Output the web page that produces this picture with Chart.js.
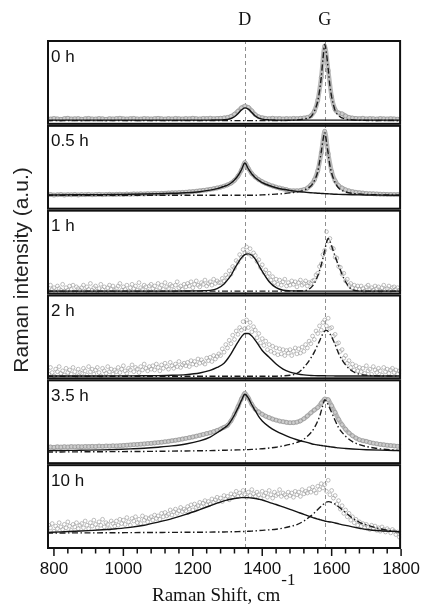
<!DOCTYPE html>
<html>
<head>
<meta charset="utf-8">
<script src="https://cdn.jsdelivr.net/npm/chart.js@4.4.1/dist/chart.umd.min.js"></script>
<style>
  html, body { margin: 0; padding: 0; background: #fff; }
  #wrap { width: 430px; height: 605px; }
</style>
</head>
<body>
<div id="wrap"><canvas id="ramanChart" width="430" height="605"></canvas></div>
<script>
// panel names, top to bottom
const panelLabels = ['0 h', '0.5 h', '1 h', '2 h', '3.5 h', '10 h'];

// D and G band positions (cm-1), dashed guide lines
const bandLabels = ['D', 'G'];
const bandCentres = [1350, 1580];

// x tick labels
const shiftTicks = [800, 1000, 1200, 1400, 1600, 1800];

// measured spectra are sampled every 10 cm-1 (smooth ones) or 5 cm-1 (noisy ones), 780..1800
const shiftStep10 = [];
for (let v = 780; v <= 1800; v += 10) shiftStep10.push(v);
const shiftStep5 = [];
for (let v = 780; v <= 1800; v += 5) shiftStep5.push(v);

// x positions of the fitted curves (denser near the peaks)
const fitShift = [780, 820, 860, 900, 940, 980, 1020, 1060, 1100, 1140, 1180, 1220,
  1250, 1270, 1290, 1300, 1310, 1320, 1330, 1340, 1350, 1360, 1370, 1380, 1390, 1400,
  1420, 1440, 1460, 1480, 1500, 1520, 1540,
  1550, 1560, 1565, 1570, 1575, 1580, 1585, 1590, 1595, 1600,
  1610, 1620, 1640, 1660, 1680, 1700, 1740, 1800];

// intensities are in % of the panel height

// ---- 0 h ----
const data0h = [
  7.2, 6.8, 7.5, 7.0, 6.6, 7.3, 7.8, 6.9, 7.1, 7.4,
  6.7, 7.2, 7.6, 7.0, 6.8, 7.5, 7.1, 6.6, 7.3, 7.0,
  7.4, 7.8, 7.1, 6.9, 7.3, 7.6, 7.0, 6.8, 7.5, 7.2,
  6.9, 7.3, 7.7, 7.1, 6.8, 7.4, 7.0, 7.6, 7.2, 6.9,
  7.5, 7.1, 7.8, 7.3, 7.0, 7.6, 7.4, 7.9, 7.2, 7.6,
  7.8, 8.2, 8.8, 10, 12.5, 16, 20, 22, 20.5, 16.5,
  12, 9.5, 8.3, 7.6, 7.3, 7.8, 7.2, 7.5, 7.0, 7.4,
  7.1, 7.6, 7.3, 7.8, 8.0, 8.8, 10.5, 16, 29, 56,
  93, 64, 33, 18, 14, 13, 10.5, 8.8, 8.0, 7.6,
  7.3, 7.8, 7.0, 7.4, 7.2, 6.8, 7.5, 7.1, 6.9, 7.3,
  7.0, 6.7, 7.2];
const dFit0h = [
  5.5, 5.5, 5.5, 5.5, 5.5, 5.5, 5.5, 5.5, 5.5, 5.5, 5.5, 5.5,
  5.6, 5.7, 6.0, 6.5, 7.5, 9.5, 13, 17.5, 20, 18.5, 14.5, 10.5, 8, 6.8,
  5.9, 5.6, 5.5, 5.5, 5.5, 5.5, 5.5,
  5.5, 5.5, 5.5, 5.5, 5.5, 5.5, 5.5, 5.5, 5.5, 5.5,
  5.5, 5.5, 5.5, 5.5, 5.5, 5.5, 5.5, 5.5];
const gFit0h = [
  5, 5, 5, 5, 5, 5, 5, 5, 5, 5, 5, 5,
  5, 5, 5, 5, 5, 5, 5, 5, 5, 5, 5, 5, 5, 5,
  5, 5, 5, 5.3, 5.8, 7, 9.5,
  16, 28, 40, 56, 78, 94.8, 84, 66, 46, 33,
  17, 11, 6.8, 5.8, 5.4, 5.2, 5.1, 5];

// ---- 0.5 h ----
const data05h = [
  17.4, 17.8, 17.2, 17.6, 17.9, 17.3, 17.7, 17.5, 17.9, 17.4,
  17.8, 17.6, 18.0, 17.5, 17.8, 18.1, 17.7, 17.9, 18.2, 17.8,
  18.1, 18.3, 18.0, 18.4, 18.2, 18.6, 18.4, 18.7, 18.5, 18.9,
  18.8, 19.1, 19.0, 19.3, 19.4, 19.6, 19.8, 19.9, 20.2, 20.4,
  20.6, 21.0, 21.3, 21.8, 22.2, 22.8, 23.3, 24.0, 24.7, 25.6,
  26.5, 27.8, 29.2, 31.2, 34.5, 39.5, 46.5, 55.5, 48.5, 42.5,
  38.5, 35.3, 33.0, 31.0, 29.3, 27.9, 26.6, 25.5, 24.5, 23.6,
  22.4, 22.2, 22.3, 22.7, 23.6, 25.5, 29, 35, 46, 67,
  92.5, 66, 45, 34, 28.5, 25.5, 23.5, 22.2, 21.2, 20.5,
  20.0, 19.6, 19.2, 18.9, 18.7, 18.5, 18.3, 18.2, 18.0, 17.9,
  17.8, 17.8, 17.7];
const dFit05h = [
  17.3, 17.4, 17.5, 17.6, 17.7, 17.9, 18.1, 18.4, 18.8, 19.3, 20.0, 21.2,
  23, 24.8, 27.5, 29, 31.5, 35, 40, 47, 55, 48, 42, 37.7, 34.5, 32,
  28.5, 25.8, 24, 22.6, 21.5, 20.7, 20,
  19.7, 19.4, 19.3, 19.1, 19, 18.9, 18.8, 18.7, 18.6, 18.4,
  18.2, 18, 17.8, 17.6, 17.4, 17.3, 17.2, 17];
const gFit05h = [
  17, 17, 17, 17, 17, 17, 17, 17, 17, 17, 17, 17,
  17, 17, 17, 17, 17, 17, 17, 17, 17, 17, 17, 17, 17.2, 17.4,
  17.8, 18.3, 18.9, 19.8, 21, 23, 28,
  34, 45, 56, 68, 82, 91, 80, 66, 52, 43,
  32, 25.5, 21, 19.2, 18.4, 17.9, 17.4, 17.1];

// ---- 1 h ----
const data1h = [
  9, 4, 11, 6, 8, 3, 10, 7, 5, 12, 4, 8, 5, 10, 6, 11, 3, 9, 7, 5,
  8, 11, 4, 9, 6, 13, 5, 8, 10, 4, 7, 12, 6, 9, 3, 8, 11, 6, 10, 5,
  7, 10, 13, 5, 9, 6, 11, 4, 8, 12, 7, 10, 5, 14, 8, 6, 11, 9, 4, 10,
  12, 7, 10, 5, 13, 8, 11, 6, 14, 9, 7, 12, 10, 5, 11, 15, 8, 10, 6, 12,
  9, 13, 10, 15, 8, 12, 16, 11, 9, 14, 12, 17, 10, 13, 15, 11, 18, 13, 16, 14,
  14, 19, 16, 23, 20, 28, 24, 33, 31, 40, 38, 47, 44, 53, 49, 56, 48, 54, 45, 49,
  46, 39, 41, 32, 35, 26, 29, 21, 25, 17, 21, 14, 18, 12, 17, 11, 15, 18, 10, 14,
  11, 16, 12, 15, 9, 14, 17, 11, 13, 16, 10, 14, 13, 16, 17, 23, 25, 33, 36, 47,
  52, 74, 63, 66, 55, 54, 44, 43, 33, 32, 24, 25, 16, 18, 11, 13, 8, 11, 7, 10,
  6, 10, 7, 4, 9, 11, 6, 8, 5, 10, 7, 9, 4, 8, 11, 6, 7, 10, 5, 8,
  9, 6, 8, 5, 7];
const dFit1h = [
  4, 4, 4, 4, 4, 4, 4, 4, 4, 4, 4.1, 4.3,
  4.8, 6.8, 12.4, 17.2, 22.5, 30.2, 37, 43.2, 47, 47.9, 46.3, 41.7, 34.5, 27.4,
  15.1, 8, 5, 4.3, 4.1, 4, 4,
  4, 4, 4, 4, 4, 4, 4, 4, 4, 4,
  4, 4, 4, 4, 4, 4, 4, 4];
const gFit1h = [
  4, 4, 4, 4, 4, 4, 4, 4, 4, 4, 4, 4,
  4, 4, 4, 4, 4, 4, 4, 4, 4, 4, 4, 4, 4, 4,
  4, 4, 4, 4, 4.1, 4.3, 8,
  13, 22, 28, 35, 43, 52, 61, 66, 63, 57,
  45, 34, 15, 5.5, 4.2, 4, 4, 4];

// ---- 2 h ----
const data2h = [
  11, 6, 14, 8, 4, 12, 9, 15, 7, 10, 5, 13, 8, 11, 6, 14, 9, 4, 12, 8,
  7, 13, 10, 5, 15, 9, 12, 6, 11, 14, 8, 4, 13, 10, 7, 15, 9, 12, 6, 11,
  9, 14, 8, 12, 16, 10, 7, 13, 11, 17, 9, 14, 12, 8, 15, 11, 18, 13, 10, 15,
  12, 16, 11, 18, 14, 10, 17, 13, 19, 15, 12, 20, 16, 13, 18, 15, 21, 14, 17, 19,
  16, 20, 15, 22, 18, 21, 17, 24, 19, 23, 20, 18, 25, 22, 26, 21, 28, 24, 27, 30,
  28, 36, 32, 41, 37, 46, 42, 52, 47, 57, 53, 61, 58, 68, 60, 70, 61, 67, 56, 62,
  58, 49, 54, 43, 48, 40, 45, 35, 41, 33, 39, 31, 37, 29, 36, 30, 35, 28, 34, 31,
  35, 28, 33, 37, 30, 36, 31, 38, 33, 41, 37, 45, 42, 51, 47, 57, 54, 63, 58, 67,
  70, 63, 72, 60, 61, 51, 53, 42, 43, 33, 35, 25, 28, 19, 22, 14, 18, 11, 16, 10,
  14, 9, 13, 7, 16, 10, 12, 6, 15, 11, 8, 13, 10, 5, 14, 9, 12, 7, 11, 13,
  8, 11, 6, 10, 9];
const dFit2h = [
  4, 4, 4, 4, 4, 4.1, 4.1, 4.2, 4.4, 4.8, 5.6, 7.5,
  10.5, 14, 19, 24, 30, 37, 44, 50, 54, 54, 51, 46, 40, 34,
  26, 18, 12, 8.5, 6.5, 5.2, 4.6,
  4.4, 4.3, 4.3, 4.2, 4.2, 4.2, 4.1, 4.1, 4.1, 4.1,
  4, 4, 4, 4, 4, 4, 4, 4];
const gFit2h = [
  3.7, 3.7, 3.7, 3.7, 3.7, 3.7, 3.7, 3.7, 3.7, 3.7, 3.7, 3.7,
  3.7, 3.7, 3.7, 3.7, 3.7, 3.7, 3.7, 3.7, 3.7, 3.7, 3.7, 3.7, 3.7, 3.7,
  3.7, 3.7, 4.1, 4.8, 7, 14, 25,
  32, 41, 45, 50, 54, 57, 57.7, 56.5, 53.5, 50,
  41, 30.5, 17, 9.5, 6, 4.8, 4, 3.8];

// ---- 3.5 h ----
const data35h = [
  19.8, 20.3, 19.9, 20.4, 20.1, 20.6, 20.2, 20.7, 20.4, 20.8,
  20.5, 20.9, 20.7, 21.1, 20.8, 21.3, 21.0, 21.4, 21.2, 21.6,
  21.5, 21.8, 22.1, 22.4, 22.6, 23.0, 23.2, 23.6, 23.9, 24.3,
  24.6, 25.0, 25.4, 25.9, 26.4, 26.9, 27.5, 28.2, 28.8, 29.6,
  30.4, 31.2, 32.1, 33.0, 34.0, 35.0, 36.1, 37.0, 38.3, 39.8,
  41.5, 43.4, 45.8, 51, 58.8, 67.5, 76.8, 83.5, 78, 70.5,
  64.8, 61.5, 58.8, 56.6, 54.8, 53.2, 51.9, 50.8, 50.0, 49.3,
  48.8, 48.9, 49.6, 51.0, 53.5, 56.8, 60.5, 63.8, 66.8, 72,
  76.8, 76.0, 68.8, 61, 52.8, 46.5, 41.2, 36.8, 33.5, 30.8,
  28.8, 27.6, 26.8, 25.6, 24.8, 24.0, 23.4, 22.8, 22.3, 21.9,
  21.5, 21.1, 20.8];
const dFit35h = [
  16, 16.1, 16.3, 16.5, 16.8, 17.3, 18, 18.8, 20, 21.5, 23.8, 27.5,
  32, 37, 42.5, 45.5, 51, 58, 66, 75, 82.5, 78, 70, 63, 56, 51,
  44, 39, 35, 31.5, 28.8, 26.5, 24.3,
  23.3, 22.6, 22.3, 22, 21.7, 21.4, 21.1, 20.8, 20.5, 20.2,
  19.7, 19.2, 18.5, 17.9, 17.4, 17, 16.5, 16];
const gFit35h = [
  14.3, 14.4, 14.5, 14.6, 14.7, 14.8, 14.9, 15, 15.2, 15.4, 15.6, 15.8,
  16, 16.2, 16.4, 16.5, 16.6, 16.7, 16.8, 16.9, 17, 17.2, 17.4, 17.6, 17.9, 18.2,
  19, 20, 21.5, 23.3, 25.6, 29.5, 37,
  42.8, 51, 56, 62.8, 70, 76, 74, 70, 65.5, 60.8,
  51.5, 43, 33, 26.5, 23, 20.8, 18, 16];

// ---- 10 h ----
const data10h = [
  22, 28, 25, 30, 21, 27, 24, 31, 26, 23, 29, 25, 32, 27, 22, 29, 26, 31, 24, 28,
  30, 25, 33, 28, 24, 31, 27, 34, 29, 25, 32, 28, 35, 26, 31, 29, 24, 33, 30, 27,
  33, 28, 35, 30, 34, 29, 37, 32, 28, 36, 33, 38, 31, 35, 30, 39, 34, 37, 32, 36,
  38, 34, 40, 36, 39, 35, 42, 38, 43, 39, 41, 46, 40, 44, 47, 42, 45, 49, 44, 47,
  45, 50, 47, 52, 46, 53, 49, 51, 55, 50, 54, 57, 52, 56, 53, 59, 55, 58, 61, 56,
  60, 56, 63, 59, 62, 58, 65, 61, 64, 68, 62, 66, 63, 69, 64, 61, 67, 63, 70, 65,
  62, 67, 64, 60, 68, 63, 66, 61, 69, 64, 60, 67, 63, 65, 70, 62, 66, 64, 61, 67,
  63, 66, 61, 68, 64, 67, 62, 70, 65, 68, 66, 71, 67, 73, 69, 66, 74, 70, 77, 72,
  76, 68, 81, 64, 69, 60, 63, 53, 57, 47, 51, 42, 46, 38, 42, 34, 38, 31, 35, 28,
  32, 27, 30, 25, 29, 26, 23, 28, 24, 27, 22, 25, 21, 26, 23, 20, 24, 22, 19, 23,
  21, 17, 20, 14, 19];
const dFit10h = [
  19.5, 20.2, 21, 21.7, 22.7, 23.9, 25.5, 28, 31.7, 35.8, 40.8, 46.5,
  51, 54, 56.8, 57.8, 58.7, 59.5, 60.1, 60.5, 60.6, 60.5, 60.1, 59.5, 58.7, 57.8,
  55, 52.5, 49.6, 46.7, 43.8, 40.8, 38,
  36.5, 35.3, 34.8, 34.2, 33.6, 33, 32.5, 32.2, 31.9, 31.7,
  30.7, 29.7, 27.8, 26.1, 24.5, 23, 21.5, 20.5];
const gFit10h = [
  18.9, 18.9, 19, 19, 19.1, 19.2, 19.3, 19.4, 19.5, 19.6, 19.7, 19.8,
  19.9, 20, 20.1, 20.2, 20.3, 20.4, 20.5, 20.6, 20.7, 20.9, 21.1, 21.4, 21.7, 22,
  22.6, 23.3, 24.6, 26.5, 28.8, 33, 39,
  42.5, 46.5, 48.5, 50.5, 52.3, 54, 55.3, 55.8, 55.5, 54.8,
  52.8, 49.8, 43, 36.5, 31.5, 28.5, 23.8, 19.7];

// which arrays go in which panel (top to bottom)
const panelData = [data0h, data05h, data1h, data2h, data35h, data10h];
const panelShift = [shiftStep10, shiftStep10, shiftStep5, shiftStep5, shiftStep10, shiftStep5];
const panelDFit = [dFit0h, dFit05h, dFit1h, dFit2h, dFit35h, dFit10h];
const panelGFit = [gFit0h, gFit05h, gFit1h, gFit2h, gFit35h, gFit10h];
// smooth spectra are drawn as a dense grey band
const panelSmooth = [true, true, false, false, true, false];

const sansFont = "'Liberation Sans', Arial, sans-serif";
const serifFont = "'Liberation Serif', 'Times New Roman', serif";

function toPoints(xs, ys) {
    return ys.map((y, i) => ({ x: xs[i], y: y }));
}

const datasets = [];
const scales = {
    x: {
        type: 'linear',
        position: 'bottom',
        min: 780,
        max: 1800,
        grid: { display: false, drawTicks: false },
        border: { display: false },
        afterFit: (s) => { s.height = 56; },
        afterBuildTicks: (s) => { s.ticks = shiftTicks.map(v => ({ value: v })); },
        ticks: {
            maxRotation: 0,
            autoSkip: false,
            padding: 10,
            color: '#111',
            font: { family: sansFont, size: 17 },
            callback: (v) => String(v)
        }
    }
};

panelLabels.forEach((label, i) => {
    const axisId = 'p' + i;
    scales[axisId] = {
        type: 'linear',
        position: 'left',
        stack: 'panels',
        stackWeight: 1,
        weight: panelLabels.length - i,
        min: 0,
        max: 100,
        ticks: { display: false },
        grid: { display: false, drawTicks: false },
        border: { display: false },
        afterFit: (s) => { s.width = 0; }
    };

    // D band fit, solid
    datasets.push({
        label: label + ' D',
        data: toPoints(fitShift, panelDFit[i]),
        yAxisID: axisId,
        borderColor: '#141414',
        borderWidth: 1.4,
        pointRadius: 0,
        cubicInterpolationMode: 'monotone',
        order: 1
    });
    // G band fit, dash-dot
    datasets.push({
        label: label + ' G',
        data: toPoints(fitShift, panelGFit[i]),
        yAxisID: axisId,
        borderColor: '#1c1c1c',
        borderWidth: 1.4,
        borderDash: [6, 2.5, 1.5, 2.5],
        pointRadius: 0,
        cubicInterpolationMode: 'monotone',
        order: 1
    });
    // measured spectrum, open grey circles
    datasets.push({
        label: label + ' measured',
        data: toPoints(panelShift[i], panelData[i]),
        yAxisID: axisId,
        showLine: panelSmooth[i],
        borderColor: '#b8b8b8',
        borderWidth: 4.5,
        pointRadius: panelSmooth[i] ? 2 : 1.9,
        pointStyle: 'circle',
        pointBorderColor: 'rgba(140,140,140,0.7)',
        pointBackgroundColor: 'rgba(255,255,255,0.3)',
        pointBorderWidth: 0.8,
        cubicInterpolationMode: 'monotone',
        order: 2
    });
});

// frames, ticks, guide lines and all the hand placed text
const panelDecor = {
    id: 'panelDecor',
    beforeDatasetsDraw(chart) {
        const { ctx, chartArea } = chart;
        const xs = chart.scales.x;
        ctx.save();
        ctx.strokeStyle = '#8f8f8f';
        ctx.lineWidth = 1;
        ctx.setLineDash([4, 3]);
        bandCentres.forEach(v => {
            const px = Math.round(xs.getPixelForValue(v)) + 0.5;
            ctx.beginPath();
            ctx.moveTo(px, chartArea.top);
            ctx.lineTo(px, chartArea.bottom);
            ctx.stroke();
        });
        ctx.restore();
    },
    afterDraw(chart) {
        const { ctx, chartArea } = chart;
        const xs = chart.scales.x;
        ctx.save();

        // panel frames
        ctx.strokeStyle = '#111';
        ctx.lineWidth = 2;
        panelLabels.forEach((label, i) => {
            const s = chart.scales['p' + i];
            ctx.strokeRect(chartArea.left + 1, s.top + 1, chartArea.width - 2, s.height - 2);
        });

        // bottom ticks, every 40 with longer ones at the labels
        ctx.lineWidth = 1.5;
        for (let v = 800; v <= 1800; v += 40) {
            const px = xs.getPixelForValue(v);
            const len = shiftTicks.includes(v) ? 7 : 4.5;
            ctx.beginPath();
            ctx.moveTo(px, chartArea.bottom);
            ctx.lineTo(px, chartArea.bottom + len);
            ctx.stroke();
        }

        // panel labels
        ctx.fillStyle = '#111';
        ctx.font = '17px ' + sansFont;
        ctx.textAlign = 'left';
        ctx.textBaseline = 'alphabetic';
        panelLabels.forEach((label, i) => {
            const s = chart.scales['p' + i];
            ctx.fillText(label, chartArea.left + 4, s.top + 21.5);
        });

        // band letters above the plot
        ctx.font = '18px ' + serifFont;
        ctx.textAlign = 'center';
        bandLabels.forEach((b, i) => {
            ctx.fillText(b, xs.getPixelForValue(bandCentres[i]), 25);
        });

        // x title with the raised -1
        ctx.textAlign = 'left';
        ctx.font = '19px ' + serifFont;
        const xTitle = 'Raman Shift, cm';
        ctx.fillText(xTitle, 152, 601);
        const w = ctx.measureText(xTitle).width;
        ctx.font = '17px ' + serifFont;
        ctx.fillText('-1', 152 + w + 1, 585);

        // y title
        ctx.translate(28, 270);
        ctx.rotate(-Math.PI / 2);
        ctx.textAlign = 'center';
        ctx.font = '21px ' + sansFont;
        ctx.fillStyle = '#222';
        ctx.fillText('Raman intensity (a.u.)', 0, 0);

        ctx.restore();
    }
};

const chart = new Chart(document.getElementById('ramanChart'), {
    type: 'line',
    data: { datasets: datasets },
    options: {
        responsive: false,
        devicePixelRatio: 1,
        animation: false,
        events: [],
        layout: { padding: { left: 47, right: 22, top: 40, bottom: 0 } },
        scales: scales,
        plugins: {
            legend: { display: false },
            tooltip: { enabled: false }
        }
    },
    plugins: [panelDecor]
});
</script>
</body>
</html>
